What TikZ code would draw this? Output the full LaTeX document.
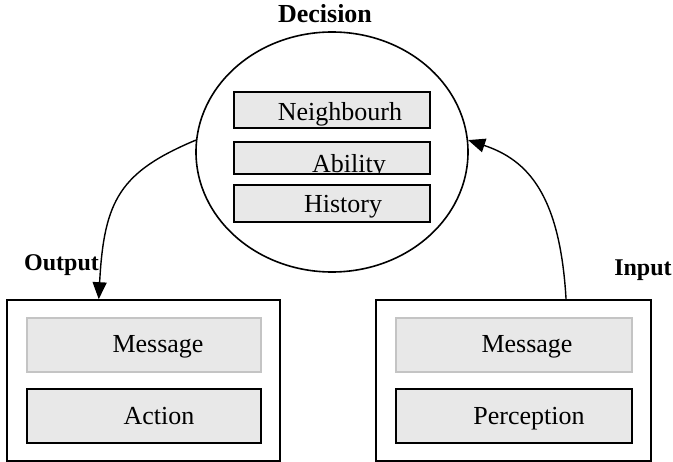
\documentclass[tikz,border=0pt]{standalone}
\usepackage{fontspec}
\setmainfont{Liberation Serif}
\usetikzlibrary{shapes.geometric,arrows.meta,calc}
\definecolor{boxfill}{HTML}{E8E8E8}
\definecolor{softedge}{HTML}{C4C4C4}
\tikzset{
  panel/.style={draw=black, line width=1.6pt, fill=white, inner sep=0pt},
  slot/.style={draw=black, line width=1.6pt, fill=boxfill, inner sep=0pt},
  softslot/.style={draw=softedge, line width=1.4pt, fill=boxfill, inner sep=0pt},
  txt/.style={anchor=base, inner sep=0pt, font=\fontsize{26}{30}\selectfont},
  tag/.style={anchor=base, inner sep=0pt, font=\fontsize{24}{28}\selectfont\bfseries},
  flow/.style={line width=1.4pt, -{Triangle[length=17pt,width=14pt]}}
}
\begin{document}
\begin{tikzpicture}[x=1pt, y=-1pt]
\useasboundingbox (0,0) rectangle (673,462);

% decision ellipse with its three entries
\node[ellipse, draw, line width=1.6pt, minimum width=272, minimum height=240, inner sep=0pt] (dec) at (332,152) {};
\node[slot, minimum width=196, minimum height=36] (nb) at (332,110) {};
\node[slot, minimum width=196, minimum height=32] (ab) at (332,158) {};
\node[slot, minimum width=196, minimum height=37] (hi) at (332,203.5) {};
\node[txt] (nbt) at (340,121) {Neighbourh};
\begin{scope}
  \clip ([shift={(0.8,-0.8)}]ab.south west) rectangle ([shift={(-0.8,0.8)}]ab.north east);
  \node[txt] (abt) at (349,173) {Ability};
\end{scope}
\node[txt] (hit) at (343,213) {History};
\node[tag, font=\fontsize{26}{30}\selectfont\bfseries] (dect) at (325,23) {Decision};

% output side
\node[panel, minimum width=273, minimum height=161] (outL) at (143.5,380.5) {};
\node[softslot, minimum width=234, minimum height=54] (msgL) at (144,345) {};
\node[slot, minimum width=234, minimum height=54] (act) at (144,416) {};
\node[txt] (msgLt) at (158,353) {Message};
\node[txt] (actt) at (159,425) {Action};
\node[tag] (outt) at (61.5,271) {Output};

% input side
\node[panel, minimum width=275, minimum height=161] (inR) at (513.5,380.5) {};
\node[softslot, minimum width=236, minimum height=54] (msgR) at (514,345) {};
\node[slot, minimum width=236, minimum height=54] (per) at (514,416) {};
\node[txt] (msgRt) at (527,353) {Message};
\node[txt] (pert) at (529,425) {Perception};
\node[tag] (int) at (643,276) {Input};

% connectors
\coordinate (outTop) at ($(outL.north west)!0.337!(outL.north east)$);
\coordinate (inTop) at ($(inR.north west)!0.69!(inR.north east)$);
\draw[flow] (dec.175) .. controls (120,172) and (104,200) .. (outTop);
\draw[flow] (inTop) .. controls (560,195) and (528,160) .. (dec.5);
\end{tikzpicture}
\end{document}
